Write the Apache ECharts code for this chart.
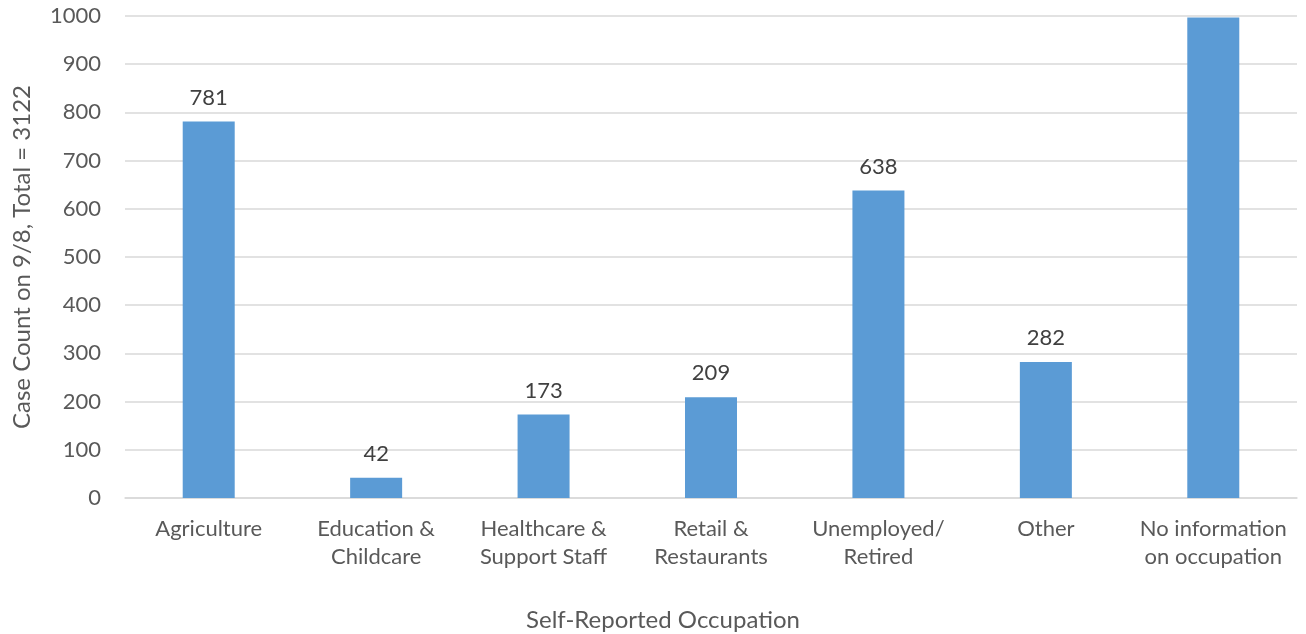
<!DOCTYPE html>
<html>
<head>
<meta charset="utf-8">
<script src="https://cdn.jsdelivr.net/npm/echarts@6/dist/echarts.min.js"></script>
<style>
  html, body { margin: 0; padding: 0; background: #fff; }
  #chart { width: 1306px; height: 634px; }
</style>
</head>
<body>
<div id="chart"></div>
<script>
// occupation categories, case counts on 9/8
const categories = [
  'Agriculture',
  'Education &\nChildcare',
  'Healthcare &\nSupport Staff',
  'Retail &\nRestaurants',
  'Unemployed/\nRetired',
  'Other',
  'No information\non occupation'
];
const caseCounts = [781, 42, 173, 209, 638, 282, 997];
// last bar's label runs off the top in the original, so it isn't shown
const showLabel = [true, true, true, true, true, true, false];

const FONT = 'Lato, "Open Sans", sans-serif';

const chart = echarts.init(document.getElementById('chart'), null, { renderer: 'canvas' });

chart.setOption({
  backgroundColor: '#ffffff',
  animation: false,
  textStyle: { fontFamily: FONT },
  grid: { left: 125, right: 9, top: 16, bottom: 136 },
  xAxis: {
    type: 'category',
    data: categories,
    axisLine: { lineStyle: { color: '#d9d9d9', width: 1.5 } },
    axisTick: { show: false },
    axisLabel: {
      color: '#595959', fontSize: 22, fontFamily: FONT,
      margin: 17, lineHeight: 28, interval: 0
    },
    splitLine: { show: false }
  },
  yAxis: {
    type: 'value',
    min: 0, max: 1000, interval: 100,
    name: 'Case Count on 9/8, Total = 3122',
    nameLocation: 'middle',
    nameGap: 91,
    nameRotate: 90,
    nameTextStyle: { color: '#595959', fontSize: 24, fontFamily: FONT },
    axisLine: { show: false },
    axisTick: { show: false },
    axisLabel: {
      color: '#595959', fontSize: 22, fontFamily: FONT, margin: 24,
      formatter: v => String(v)
    },
    splitLine: { lineStyle: { color: '#d9d9d9', width: 1.5 } }
  },
  graphic: [{
    type: 'text',
    x: 663, y: 620,
    style: {
      text: 'Self-Reported Occupation',
      fill: '#595959', fontSize: 24, fontFamily: FONT,
      align: 'center', verticalAlign: 'middle'
    }
  }],
  series: [{
    type: 'bar',
    barWidth: 52,
    data: caseCounts.map((v, i) => ({
      value: v,
      label: { show: showLabel[i] }
    })),
    itemStyle: { color: '#5b9bd5' },
    label: {
      show: true, position: 'top', distance: 13,
      color: '#404040', fontSize: 22, fontFamily: FONT
    }
  }]
});
</script>
</body>
</html>
